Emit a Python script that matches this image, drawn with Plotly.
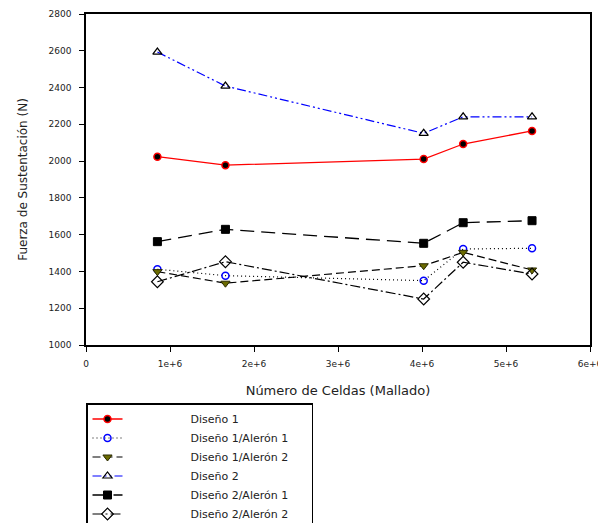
import plotly.graph_objects as go

x_cells = [0.85e6, 1.66e6, 4.02e6, 4.49e6, 5.31e6]

diseno1 = [2024, 1978, 2011, 2093, 2164]
diseno1_aleron1 = [1412, 1377, 1350, 1522, 1526]
diseno1_aleron2 = [1399, 1336, 1431, 1504, 1408]
diseno2 = [2593, 2408, 2151, 2241, 2241]
diseno2_aleron1 = [1562, 1629, 1553, 1665, 1676]
diseno2_aleron2 = [1344, 1453, 1250, 1450, 1386]

names = ["Diseño 1", "Diseño 1/Alerón 1", "Diseño 1/Alerón 2",
         "Diseño 2", "Diseño 2/Alerón 1", "Diseño 2/Alerón 2"]

x_ticks = [0, 1e6, 2e6, 3e6, 4e6, 5e6, 6e6]
x_tick_labels = ["0", "1e+6", "2e+6", "3e+6", "4e+6", "5e+6", "6e+6"]
y_ticks = [1000, 1200, 1400, 1600, 1800, 2000, 2200, 2400, 2600, 2800]

FONT = "DejaVu Sans, Liberation Sans, Arial, sans-serif"
pad = "\u00a0" * 18
labels = [pad + n + "\u00a0" * 5 for n in names]

fig = go.Figure()

fig.add_trace(go.Scatter(
    x=x_cells, y=diseno1, name=labels[0], mode="lines+markers",
    line=dict(color="#ff0000", width=1.3, dash="solid"),
    marker=dict(symbol="circle", size=7, color="black", line=dict(color="#ff0000", width=1.5))))

fig.add_trace(go.Scatter(
    x=x_cells, y=diseno1_aleron1, name=labels[1], mode="lines+markers",
    line=dict(color="black", width=1.2, dash="1px,3px"),
    marker=dict(symbol="circle-open", size=7, color="#0000ff", line=dict(color="#0000ff", width=1.5))))

fig.add_trace(go.Scatter(
    x=x_cells, y=diseno1_aleron2, name=labels[2], mode="lines+markers",
    line=dict(color="black", width=1.2, dash="8px,4px"),
    marker=dict(symbol="triangle-down", size=8, color="#6b6b00", line=dict(color="#2a2a00", width=1))))

fig.add_trace(go.Scatter(
    x=x_cells, y=diseno2, name=labels[3], mode="lines+markers",
    line=dict(color="#0000ff", width=1.2, dash="9px,3px,2px,3px,2px,3px"),
    marker=dict(symbol="triangle-up-open", size=8, color="black", line=dict(color="black", width=1.2))))

fig.add_trace(go.Scatter(
    x=x_cells, y=diseno2_aleron1, name=labels[4], mode="lines+markers",
    line=dict(color="black", width=1.3, dash="14px,7px"),
    marker=dict(symbol="square", size=8, color="black", line=dict(color="black", width=1))))

fig.add_trace(go.Scatter(
    x=x_cells, y=diseno2_aleron2, name=labels[5], mode="lines+markers",
    line=dict(color="black", width=1.2, dash="10px,3px,2px,3px"),
    marker=dict(symbol="diamond-open", size=9, color="black", line=dict(color="black", width=1.2))))

axis_common = dict(
    showline=True, linecolor="black", linewidth=1.5, mirror=True,
    ticks="outside", ticklen=5, tickwidth=1.3, tickcolor="black",
    showgrid=False, zeroline=False, automargin=False,
    tickfont=dict(family=FONT, size=9, color="#222222"),
)

fig.update_xaxes(
    range=[0, 6e6], tickvals=x_ticks, ticktext=x_tick_labels,
    ticklabelstandoff=4,
    title=dict(text="Número de Celdas (Mallado)",
               font=dict(family=FONT, size=13, color="#222222"),
               standoff=18),
    **axis_common)
fig.update_yaxes(
    range=[1000, 2800], tickvals=y_ticks,
    ticklabelstandoff=6,
    title=dict(text="Fuerza de Sustentación (N)",
               font=dict(family=FONT, size=12, color="#222222"),
               standoff=18),
    **axis_common)

fig.update_layout(
    width=598, height=515,
    margin=dict(l=78, r=16, t=6, b=178),
    paper_bgcolor="white", plot_bgcolor="white",
    showlegend=True,
    legend=dict(
        xref="paper", yref="container",
        x=0, y=1 - 395 / 515, xanchor="left", yanchor="top",
        bordercolor="black", borderwidth=1.5, bgcolor="white",
        font=dict(family=FONT, size=11, color="#222222"),
        tracegroupgap=0,
    ),
)

fig.write_html("out.html")
